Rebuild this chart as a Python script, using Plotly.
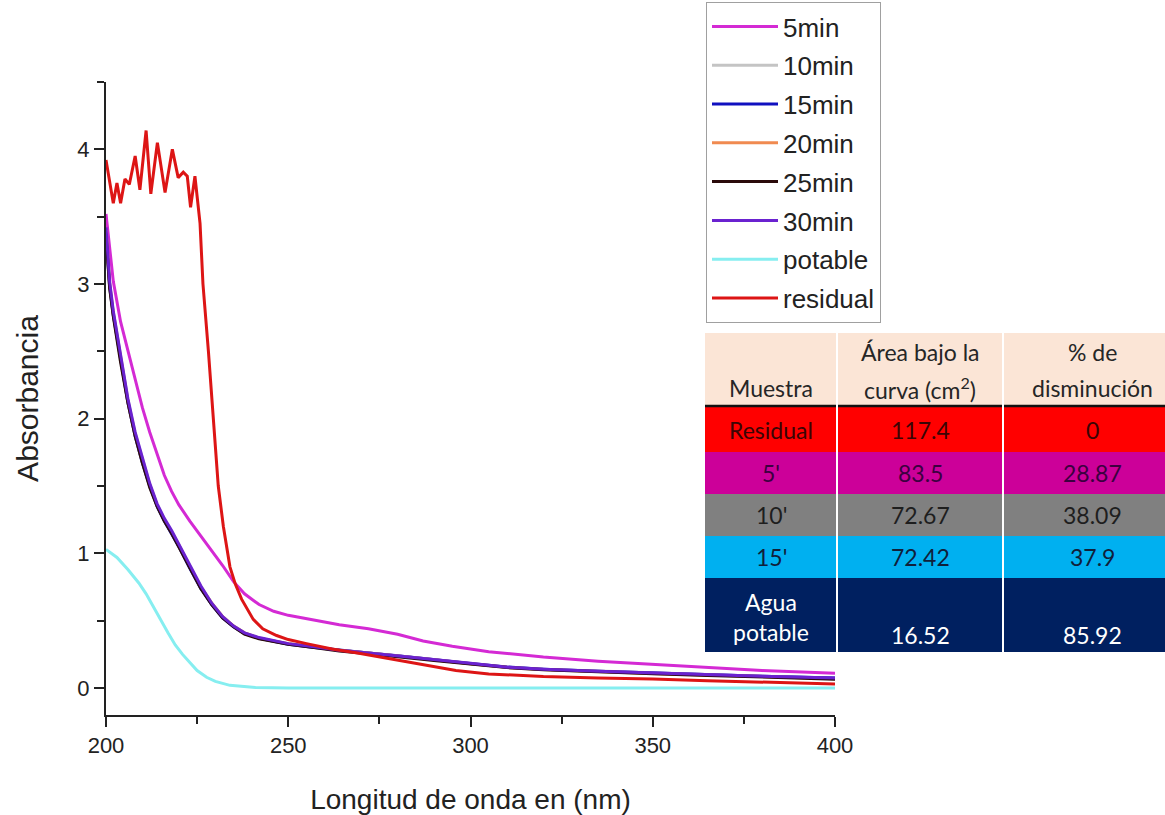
import plotly.graph_objects as go

# ---------------- data ----------------
wl_res = [200, 201, 202, 203, 204, 205.2, 206.4, 208, 209.3, 211, 212.3, 214.1, 216.2, 218.2, 219.8,
          221.2, 222.3, 223.2, 224.4, 225.8, 226.6, 228.1, 229.4, 230.8, 232.2, 234, 235.5, 237.2,
          240.4, 243, 246.8, 250, 255, 262, 269, 278, 287, 296, 305, 320, 335, 350, 365, 380, 400]
ab_res = [3.92, 3.75, 3.60, 3.75, 3.60, 3.78, 3.74, 3.95, 3.70, 4.14, 3.67, 4.05, 3.68, 4.00, 3.79,
          3.83, 3.80, 3.57, 3.80, 3.45, 3.00, 2.50, 2.00, 1.50, 1.20, 0.90, 0.77, 0.66,
          0.51, 0.44, 0.39, 0.36, 0.33, 0.29, 0.26, 0.215, 0.17, 0.13, 0.105, 0.085, 0.075, 0.068, 0.055, 0.042, 0.03]

wl_5 = [200, 201, 202, 204, 206, 208, 210, 212, 214, 216, 218, 220, 223, 226, 229, 232, 235, 238,
        242, 246, 250, 256, 264, 272, 280, 287, 295, 305, 320, 335, 350, 365, 380, 400]
ab_5 = [3.52, 3.25, 3.02, 2.72, 2.50, 2.28, 2.08, 1.90, 1.74, 1.58, 1.46, 1.36, 1.24, 1.13, 1.02, 0.91, 0.79, 0.70,
        0.62, 0.57, 0.54, 0.51, 0.47, 0.44, 0.40, 0.35, 0.31, 0.27, 0.23, 0.20, 0.175, 0.15, 0.13, 0.11]

wl_c = [200, 201, 202, 204, 206, 208, 210, 212, 214, 216, 218, 220, 223, 226, 229, 232, 235, 238,
        242, 246, 250, 256, 264, 272, 280, 290, 300, 310, 320, 335, 350, 365, 380, 400]
ab_10 = [3.40, 3.00, 2.79, 2.45, 2.14, 1.89, 1.69, 1.51, 1.36, 1.25, 1.16, 1.06, 0.90, 0.75, 0.63, 0.53, 0.46, 0.41,
         0.37, 0.35, 0.33, 0.31, 0.28, 0.26, 0.24, 0.21, 0.18, 0.155, 0.14, 0.125, 0.11, 0.10, 0.087, 0.073]
ab_15 = [3.38, 2.98, 2.77, 2.43, 2.12, 1.87, 1.67, 1.50, 1.35, 1.24, 1.15, 1.05, 0.89, 0.74, 0.62, 0.52, 0.455, 0.405,
         0.37, 0.345, 0.325, 0.305, 0.28, 0.26, 0.24, 0.21, 0.182, 0.156, 0.14, 0.124, 0.11, 0.099, 0.087, 0.074]
ab_20 = [3.40, 3.00, 2.78, 2.44, 2.13, 1.88, 1.68, 1.51, 1.36, 1.25, 1.16, 1.06, 0.90, 0.75, 0.63, 0.53, 0.46, 0.41,
         0.37, 0.35, 0.33, 0.31, 0.28, 0.26, 0.24, 0.21, 0.18, 0.154, 0.138, 0.122, 0.108, 0.097, 0.085, 0.070]
ab_25 = [3.36, 2.97, 2.76, 2.42, 2.12, 1.87, 1.67, 1.49, 1.35, 1.24, 1.15, 1.05, 0.89, 0.74, 0.62, 0.52, 0.455, 0.40,
         0.365, 0.345, 0.325, 0.305, 0.275, 0.255, 0.235, 0.205, 0.178, 0.152, 0.136, 0.12, 0.106, 0.094, 0.082, 0.066]
ab_30 = [3.42, 3.02, 2.80, 2.46, 2.15, 1.90, 1.70, 1.52, 1.37, 1.26, 1.17, 1.07, 0.91, 0.76, 0.63, 0.53, 0.46, 0.41,
         0.375, 0.35, 0.33, 0.31, 0.28, 0.26, 0.24, 0.21, 0.185, 0.155, 0.14, 0.125, 0.112, 0.10, 0.088, 0.075]

wl_pot = [200, 203, 206, 209, 211, 213, 215, 217, 219, 221, 223, 225, 227.6, 230, 234, 238, 241, 250, 300, 350, 400]
ab_pot = [1.03, 0.97, 0.88, 0.78, 0.70, 0.60, 0.50, 0.41, 0.32, 0.25, 0.19, 0.13, 0.08, 0.05, 0.02, 0.01, 0.005, 0.0, 0.0, 0.0, 0.0]

series_names = ["5min", "10min", "15min", "20min", "25min", "30min", "potable", "residual"]

# table data
tbl_header_1 = ["Muestra", "Área bajo la", "% de"]
tbl_header_2 = ["", "curva (cm<sup>2</sup>)", "disminución"]
tbl_sample = ["Residual", "5'", "10'", "15'", "Agua<br>potable"]
tbl_area = ["117.4", "83.5", "72.67", "72.42", "16.52"]
tbl_pct = ["0", "28.87", "38.09", "37.9", "85.92"]

# ---------------- figure ----------------
W, H = 1165, 815
L, R, T, B = 106, 835, 82, 715


def px(x):
    return (x - L) / (R - L)


def py(y):
    return (B - y) / (B - T)


colors = ["#D42AD4", "#C4C4C4", "#1010C0", "#F08A50", "#2A0A0A", "#6A22D0", "#86EEF0", "#DD1515"]
xs = [wl_5, wl_c, wl_c, wl_c, wl_c, wl_c, wl_pot, wl_res]
ys = [ab_5, ab_10, ab_15, ab_20, ab_25, ab_30, ab_pot, ab_res]

fig = go.Figure()
for i, name in enumerate(series_names):
    fig.add_trace(go.Scatter(x=xs[i], y=ys[i], mode="lines", name=name,
                             legendgroup=name,
                             line=dict(color=colors[i], width=3)))

sans = "Liberation Sans, Arial, sans-serif"
axis_font = dict(family=sans, size=22, color="#222")
fig.update_layout(
    width=W, height=H,
    margin=dict(l=L, r=W - R, t=T, b=H - B, autoexpand=False),
    plot_bgcolor="white", paper_bgcolor="white",
    font=dict(family=sans, color="#222"),
    showlegend=True,
    legend=dict(x=px(706), y=py(2), xanchor="left", yanchor="top",
                bordercolor="#A0A0A0", borderwidth=1, bgcolor="white",
                font=dict(size=26, family=sans, color="#222"),
                tracegroupgap=2, itemwidth=66),
    xaxis=dict(range=[200, 400], tickvals=[200, 250, 300, 350, 400],
               showline=True, linecolor="#222", linewidth=2, ticks="outside",
               ticklen=10, tickwidth=2, tickcolor="#222", showgrid=False, zeroline=False,
               tickfont=axis_font,
               minor=dict(dtick=25, tick0=200, ticks="outside", ticklen=7, tickwidth=2, tickcolor="#222"),
               title=dict(text="Longitud de onda en (nm)", font=dict(size=28), standoff=33)),
    yaxis=dict(range=[-0.2, 4.5], tickvals=[0, 1, 2, 3, 4],
               showline=True, linecolor="#222", linewidth=2, ticks="outside",
               ticklen=10, tickwidth=2, tickcolor="#222", showgrid=False, zeroline=False,
               tickfont=axis_font,
               minor=dict(dtick=0.5, tick0=0, ticks="outside", ticklen=7, tickwidth=2, tickcolor="#222"),
               title=dict(text="Absorbancia", font=dict(size=30), standoff=30)),
)

# ---------------- table (shapes + annotations) ----------------
col_edges = [705, 837, 1003, 1165]
row_edges = [407, 452, 494, 536, 578, 652]
row_fill = ["#FF0000", "#CC0099", "#808080", "#00B0F0", "#002060"]
row_text = ["#3A0505", "#3B0040", "#1E1E1E", "#10203A", "#FFFFFF"]
tfont = "Lato, sans-serif"

fig.add_shape(type="rect", xref="paper", yref="paper", x0=px(705), x1=px(1165), y0=py(405), y1=py(333),
              fillcolor="#FBE5D6", line=dict(width=0), layer="above")
for r in range(5):
    fig.add_shape(type="rect", xref="paper", yref="paper", x0=px(705), x1=px(1165),
                  y0=py(row_edges[r + 1]), y1=py(row_edges[r]),
                  fillcolor=row_fill[r], line=dict(width=0), layer="above")
fig.add_shape(type="line", xref="paper", yref="paper", x0=px(705), x1=px(1165), y0=py(406), y1=py(406),
              line=dict(color="#111", width=2.5), layer="above")
for ce in col_edges[1:3]:
    fig.add_shape(type="line", xref="paper", yref="paper", x0=px(ce), x1=px(ce), y0=py(652), y1=py(333),
                  line=dict(color="white", width=2), layer="above")

col_centers = [771, 920, 1092]


def ann(xp, yp, text, font):
    fig.add_annotation(xref="paper", yref="paper", x=px(xp), y=py(yp), text=text,
                       xanchor="center", yanchor="middle", showarrow=False, font=font)


hf = dict(family=tfont, size=23, color="#262626")
ann(col_centers[0], 388, tbl_header_1[0], hf)
for c in (1, 2):
    ann(col_centers[c], 352, tbl_header_1[c], hf)
    ann(col_centers[c], 388, tbl_header_2[c], hf)

for r in range(5):
    yc = (row_edges[r] + row_edges[r + 1]) / 2
    f = dict(family=tfont, size=23, color=row_text[r])
    if r < 4:
        for c, txt in enumerate([tbl_sample[r], tbl_area[r], tbl_pct[r]]):
            ann(col_centers[c], yc, txt, f)
    else:
        ann(col_centers[0], yc + 2, tbl_sample[r], f)
        ann(col_centers[1], 635, tbl_area[r], f)
        ann(col_centers[2], 635, tbl_pct[r], f)

fig.write_html("out.html", config={"displayModeBar": False},
               post_script="document.body.style.margin='0';")
